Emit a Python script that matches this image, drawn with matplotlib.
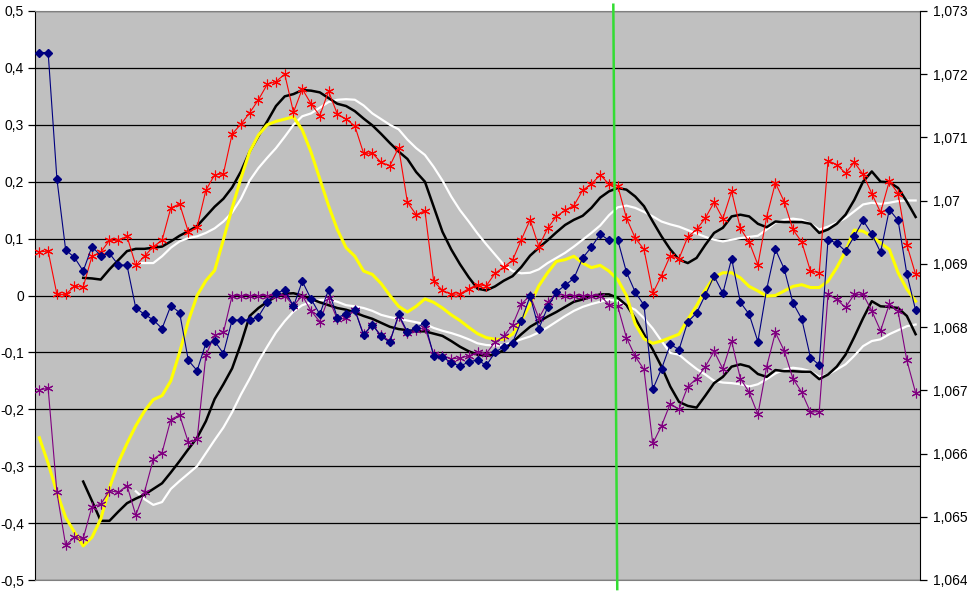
import numpy as np
import matplotlib
matplotlib.use("Agg")
import matplotlib.pyplot as plt
from matplotlib.ticker import FixedLocator

nan = np.nan

# ---- data ----
navy = [0.427, 0.427, 0.205, 0.080, 0.067, 0.043, 0.086, 0.070, 0.074, 0.054,
        0.053, -0.022, -0.033, -0.043, -0.058, -0.018, -0.030, -0.114, -0.132, -0.084,
        -0.080, -0.102, -0.043, -0.043, -0.043, -0.037, -0.012, 0.004, 0.010, -0.019,
        0.025, -0.006, -0.033, 0.010, -0.039, -0.032, -0.025, -0.070, -0.051, -0.072,
        -0.082, -0.033, -0.064, -0.057, -0.048, -0.106, -0.108, -0.118, -0.124, -0.117,
        -0.113, -0.123, -0.100, -0.090, -0.083, -0.045, -0.001, -0.058, -0.021, 0.006,
        0.018, 0.030, 0.066, 0.085, 0.108, 0.097, 0.098, 0.041, 0.006, -0.017,
        -0.165, -0.129, -0.086, -0.095, -0.046, -0.031, 0.001, 0.034, 0.004, 0.065,
        -0.012, -0.033, -0.081, 0.011, 0.081, 0.047, -0.013, -0.041, -0.109, -0.122,
        0.098, 0.092, 0.078, 0.104, 0.132, 0.108, 0.076, 0.151, 0.132, 0.038,
        -0.026]

red = [0.077, 0.078, 0.002, 0.002, 0.016, 0.015, 0.069, 0.076, 0.097, 0.097,
       0.104, 0.053, 0.069, 0.086, 0.097, 0.154, 0.161, 0.112, 0.120, 0.185,
       0.212, 0.214, 0.284, 0.301, 0.321, 0.344, 0.371, 0.376, 0.389, 0.322,
       0.363, 0.337, 0.316, 0.359, 0.319, 0.310, 0.298, 0.250, 0.250, 0.234,
       0.228, 0.260, 0.164, 0.142, 0.149, 0.025, 0.009, 0.002, 0.003, 0.012,
       0.019, 0.017, 0.039, 0.050, 0.062, 0.098, 0.133, 0.086, 0.118, 0.139,
       0.150, 0.158, 0.185, 0.196, 0.212, 0.196, 0.193, 0.136, 0.101, 0.081,
       0.004, 0.035, 0.070, 0.065, 0.103, 0.116, 0.136, 0.164, 0.135, 0.183,
       0.118, 0.094, 0.054, 0.138, 0.198, 0.165, 0.116, 0.094, 0.043, 0.040,
       0.237, 0.230, 0.215, 0.234, 0.213, 0.179, 0.146, 0.201, 0.179, 0.089,
       0.037]

purple = [-0.166, -0.163, -0.346, -0.439, -0.425, -0.427, -0.371, -0.367, -0.343, -0.346,
          -0.334, -0.386, -0.345, -0.288, -0.276, -0.218, -0.210, -0.258, -0.253, -0.105,
          -0.070, -0.065, 0.0, 0.0, 0.0, 0.0, 0.0, 0.0, 0.0, -0.018,
          0.0, -0.027, -0.046, -0.004, -0.042, -0.040, -0.025, -0.068, -0.052, -0.070,
          -0.080, -0.036, -0.066, -0.060, -0.057, -0.103, -0.107, -0.111, -0.110, -0.106,
          -0.100, -0.102, -0.082, -0.072, -0.052, -0.015, 0.0, -0.040, -0.012, 0.003,
          0.0, 0.0, 0.0, 0.0, 0.0, -0.016, -0.019, -0.074, -0.107, -0.130,
          -0.260, -0.229, -0.190, -0.200, -0.160, -0.146, -0.125, -0.098, -0.129, -0.080,
          -0.146, -0.170, -0.209, -0.125, -0.065, -0.097, -0.146, -0.170, -0.205, -0.204,
          0.002, -0.007, -0.021, 0.002, 0.002, -0.027, -0.062, -0.015, -0.028, -0.114,
          -0.171]

yellow = [-0.250, -0.295, -0.346, -0.390, -0.416, -0.440, -0.425, -0.393, -0.338, -0.294,
          -0.260, -0.229, -0.203, -0.183, -0.176, -0.150, -0.100, -0.045, 0.000, 0.026,
          0.044, 0.098, 0.154, 0.206, 0.253, 0.282, 0.300, 0.306, 0.310, 0.314,
          0.291, 0.252, 0.205, 0.158, 0.116, 0.084, 0.069, 0.043, 0.037, 0.021,
          0.000, -0.019, -0.029, -0.019, -0.006, -0.012, -0.022, -0.034, -0.044, -0.056,
          -0.067, -0.074, -0.077, -0.077, -0.068, -0.044, -0.016, 0.017, 0.040, 0.060,
          0.063, 0.069, 0.057, 0.049, 0.053, 0.043, 0.028, 0.000, -0.050, -0.076,
          -0.084, -0.080, -0.074, -0.068, -0.042, -0.018, 0.010, 0.032, 0.040, 0.040,
          0.031, 0.016, 0.008, -0.001, 0.000, 0.008, 0.016, 0.019, 0.014, 0.014,
          0.025, 0.049, 0.078, 0.115, 0.113, 0.104, 0.092, 0.081, 0.040, 0.011,
          -0.010]

black_upper = [nan, nan, nan, nan, nan, 0.031, 0.030, 0.028, 0.046, 0.062,
               0.078, 0.082, 0.082, 0.084, 0.086, 0.095, 0.105, 0.113, 0.122, 0.139,
               0.156, 0.170, 0.190, 0.218, 0.253, 0.280, 0.306, 0.333, 0.350, 0.354,
               0.361, 0.360, 0.357, 0.347, 0.337, 0.333, 0.324, 0.311, 0.299, 0.284,
               0.268, 0.253, 0.240, 0.217, 0.200, 0.156, 0.112, 0.081, 0.055, 0.032,
               0.012, 0.009, 0.016, 0.026, 0.034, 0.050, 0.070, 0.084, 0.097, 0.111,
               0.124, 0.133, 0.140, 0.154, 0.172, 0.183, 0.189, 0.186, 0.174, 0.157,
               0.130, 0.104, 0.081, 0.063, 0.057, 0.066, 0.089, 0.110, 0.119, 0.139,
               0.142, 0.139, 0.126, 0.120, 0.130, 0.129, 0.129, 0.129, 0.126, 0.110,
               0.116, 0.126, 0.142, 0.168, 0.200, 0.218, 0.200, 0.199, 0.189, 0.165,
               0.138]

black_lower = [nan, nan, nan, nan, nan, -0.327, -0.361, -0.396, -0.396, -0.380,
               -0.365, -0.357, -0.350, -0.340, -0.330, -0.311, -0.291, -0.270, -0.250, -0.221,
               -0.182, -0.156, -0.128, -0.085, -0.036, -0.022, -0.011, -0.002, 0.003, 0.004,
               0.000, -0.006, -0.012, -0.017, -0.022, -0.025, -0.030, -0.036, -0.041, -0.048,
               -0.055, -0.059, -0.061, -0.063, -0.063, -0.067, -0.071, -0.080, -0.090, -0.098,
               -0.104, -0.106, -0.104, -0.096, -0.082, -0.068, -0.055, -0.046, -0.037, -0.029,
               -0.020, -0.011, -0.007, -0.002, 0.002, 0.002, -0.004, -0.017, -0.040, -0.068,
               -0.095, -0.125, -0.160, -0.187, -0.194, -0.197, -0.176, -0.154, -0.143, -0.125,
               -0.121, -0.125, -0.138, -0.143, -0.131, -0.133, -0.133, -0.134, -0.134, -0.147,
               -0.139, -0.125, -0.104, -0.073, -0.040, -0.010, -0.019, -0.020, -0.022, -0.036,
               -0.068]

white_upper = [nan, nan, nan, nan, nan, nan, nan, nan, nan, nan,
               nan, 0.057, 0.057, 0.057, 0.069, 0.084, 0.095, 0.101, 0.104, 0.110,
               0.118, 0.130, 0.146, 0.170, 0.202, 0.224, 0.242, 0.259, 0.279, 0.300,
               0.315, 0.320, 0.330, 0.340, 0.344, 0.345, 0.344, 0.334, 0.320, 0.310,
               0.300, 0.292, 0.274, 0.259, 0.247, 0.226, 0.202, 0.174, 0.150, 0.130,
               0.109, 0.090, 0.072, 0.054, 0.043, 0.039, 0.040, 0.046, 0.057, 0.066,
               0.075, 0.086, 0.098, 0.110, 0.123, 0.141, 0.155, 0.158, 0.154, 0.147,
               0.139, 0.130, 0.125, 0.121, 0.115, 0.109, 0.103, 0.098, 0.095, 0.098,
               0.101, 0.103, 0.105, 0.116, 0.128, 0.133, 0.135, 0.133, 0.126, 0.116,
               0.121, 0.128, 0.136, 0.148, 0.160, 0.163, 0.161, 0.163, 0.166, 0.167,
               0.167]

white_lower = [nan, nan, nan, nan, nan, nan, nan, nan, nan, nan,
               nan, -0.344, -0.358, -0.368, -0.363, -0.340, -0.326, -0.313, -0.300, -0.277,
               -0.254, -0.232, -0.205, -0.174, -0.146, -0.116, -0.090, -0.065, -0.045, -0.028,
               -0.017, -0.012, -0.008, -0.007, -0.011, -0.017, -0.019, -0.022, -0.027, -0.034,
               -0.038, -0.041, -0.044, -0.047, -0.050, -0.057, -0.062, -0.066, -0.071, -0.077,
               -0.084, -0.087, -0.088, -0.087, -0.082, -0.077, -0.072, -0.065, -0.056, -0.046,
               -0.036, -0.027, -0.020, -0.015, -0.011, -0.007, -0.010, -0.018, -0.025, -0.040,
               -0.058, -0.080, -0.101, -0.104, -0.117, -0.129, -0.139, -0.150, -0.153, -0.154,
               -0.156, -0.160, -0.156, -0.147, -0.137, -0.130, -0.127, -0.129, -0.133, -0.143,
               -0.139, -0.130, -0.121, -0.106, -0.089, -0.080, -0.077, -0.068, -0.061, -0.054,
               -0.051]

left_ticks = [-0.5, -0.4, -0.3, -0.2, -0.1, 0.0, 0.1, 0.2, 0.3, 0.4, 0.5]
left_labels = ['-0,5', '-0,4', '-0,3', '-0,2', '-0,1', '0', '0,1', '0,2', '0,3', '0,4', '0,5']
right_ticks = [1.064, 1.065, 1.066, 1.067, 1.068, 1.069, 1.070, 1.071, 1.072, 1.073]
right_labels = ['1,064', '1,065', '1,066', '1,067', '1,068', '1,069', '1,07', '1,071', '1,072', '1,073']

cursor_x = 65.5   # position of the vertical green marker line (category units)

plt.rcParams['font.family'] = ['Liberation Sans', 'DejaVu Sans']

x = np.arange(len(navy))
star = (6, 2, 0)

fig = plt.figure(figsize=(9.67, 5.91), dpi=100)
ax = fig.add_axes([35 / 967, 1 - 580 / 591, 885 / 967, 569 / 591])
ax.set_facecolor('#C0C0C0')

ax.set_xlim(-0.5, len(navy) - 0.5)
ax.set_ylim(-0.5, 0.5)
ax.yaxis.set_major_locator(FixedLocator(left_ticks))
ax.set_yticklabels(left_labels)
ax.set_xticks([])
ax.grid(axis='y', color='black', lw=0.9, zorder=0)
ax.set_axisbelow(True)
ax.tick_params(axis='y', direction='out', length=5, width=0.9, labelsize=10, pad=3)
for s in ('top', 'bottom'):
    ax.spines[s].set_color('#808080')
ax.spines['left'].set_color('black')
ax.spines['right'].set_visible(False)

ax.plot(x, white_upper, color='white', lw=1.6, zorder=2)
ax.plot(x, white_lower, color='white', lw=1.6, zorder=2)
ax.plot(x, black_upper, color='black', lw=1.8, zorder=2)
ax.plot(x, black_lower, color='black', lw=1.8, zorder=2)
ax.plot(x, yellow, color='#FFFF00', lw=2.2, zorder=3)
ax.plot(x, purple, color='#800080', lw=0.8, marker=star, ms=7, mew=0.8, zorder=4)
ax.plot(x, red, color='#FF0000', lw=0.8, marker=star, ms=7, mew=0.8, zorder=4)
ax.plot(x, navy, color='#000080', lw=0.8, marker='D', ms=4.5, zorder=5)

# green zero arrow and vertical marker
ax.annotate('', xy=(len(navy) - 0.3, 0), xytext=(-0.5, 0),
            arrowprops=dict(arrowstyle='-|>', color='#1FA050', lw=3, mutation_scale=14,
                            shrinkA=0, shrinkB=0), zorder=6)
ax.plot([cursor_x, cursor_x + 0.45], [0.511, -0.516], color='#33DD33', lw=1.8,
        clip_on=False, zorder=7)

ax2 = ax.twinx()
ax2.set_ylim(1.064, 1.073)
ax2.yaxis.set_major_locator(FixedLocator(right_ticks))
ax2.set_yticklabels(right_labels)
ax2.tick_params(axis='y', direction='out', length=5, width=0.9, labelsize=10, pad=4)
for s in ('top', 'bottom', 'left'):
    ax2.spines[s].set_visible(False)
ax2.spines['right'].set_color('black')

fig.savefig('out.png', dpi=100)
